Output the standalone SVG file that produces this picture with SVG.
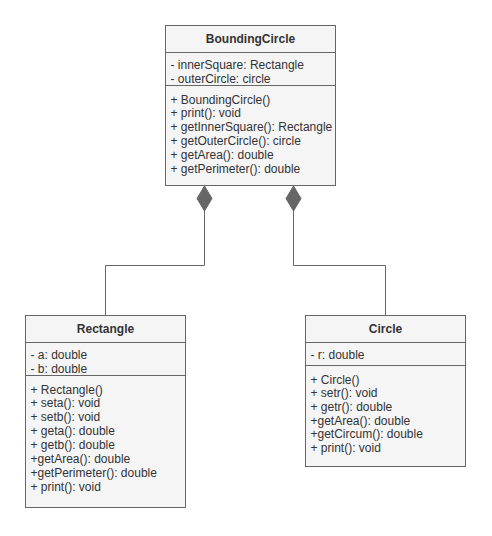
<svg xmlns="http://www.w3.org/2000/svg" width="492" height="536" viewBox="0 0 492 536">
<style>
.box{fill:#f5f5f5;stroke:#666666;stroke-width:1}
.div{stroke:#666666;stroke-width:1;fill:none}
.t{font-family:"Liberation Sans",Arial,sans-serif;font-size:12px;fill:#333333}
.h{font-weight:bold;text-anchor:middle}
.edge{stroke:#666666;stroke-width:1;fill:none}
.dia{fill:#666666;stroke:#666666;stroke-width:1}
</style>
<rect width="492" height="536" fill="#ffffff"/>
<g id="connectors">
<path class="edge" d="M204.5,211 V265.5 H105.5 V315"/>
<path class="edge" d="M293.5,211 V265.5 H385.5 V315"/>
<path class="dia" d="M204.5,186 L212,198.5 L204.5,211 L197,198.5 Z"/>
<path class="dia" d="M293.5,186 L301,198.5 L293.5,211 L286,198.5 Z"/>
</g>
<g id="BoundingCircle">
<rect class="box" x="165.5" y="25.5" width="170" height="160"/>
<line class="div" x1="165.5" y1="52.5" x2="335.5" y2="52.5"/>
<line class="div" x1="165.5" y1="85.5" x2="335.5" y2="85.5"/>
<text class="t h" x="250.5" y="43">BoundingCircle</text>
<text class="t"><tspan x="170.5" y="68.5">- innerSquare: Rectangle</tspan><tspan x="170.5" y="82.5">- outerCircle: circle</tspan></text>
<text class="t"><tspan x="170.5" y="103.5">+ BoundingCircle()</tspan><tspan x="170.5" y="117.4">+ print(): void</tspan><tspan x="170.5" y="131.3">+ getInnerSquare(): Rectangle</tspan><tspan x="170.5" y="145.2">+ getOuterCircle(): circle</tspan><tspan x="170.5" y="159.1">+ getArea(): double</tspan><tspan x="170.5" y="173">+ getPerimeter(): double</tspan></text>
</g>
<g id="Rectangle">
<rect class="box" x="25.5" y="315.5" width="160" height="192"/>
<line class="div" x1="25.5" y1="342.5" x2="185.5" y2="342.5"/>
<line class="div" x1="25.5" y1="375.5" x2="185.5" y2="375.5"/>
<text class="t h" x="105.5" y="333">Rectangle</text>
<text class="t"><tspan x="30.5" y="358.5">- a: double</tspan><tspan x="30.5" y="372.5">- b: double</tspan></text>
<text class="t"><tspan x="30.5" y="393.5">+ Rectangle()</tspan><tspan x="30.5" y="407.4">+ seta(): void</tspan><tspan x="30.5" y="421.3">+ setb(): void</tspan><tspan x="30.5" y="435.2">+ geta(): double</tspan><tspan x="30.5" y="449.1">+ getb(): double</tspan><tspan x="30.5" y="463">+getArea(): double</tspan><tspan x="30.5" y="476.9">+getPerimeter(): double</tspan><tspan x="30.5" y="490.8">+ print(): void</tspan></text>
</g>
<g id="Circle">
<rect class="box" x="305.5" y="315.5" width="160" height="151"/>
<line class="div" x1="305.5" y1="342.5" x2="465.5" y2="342.5"/>
<line class="div" x1="305.5" y1="365.5" x2="465.5" y2="365.5"/>
<text class="t h" x="385.5" y="333">Circle</text>
<text class="t"><tspan x="310.5" y="358.5">- r: double</tspan></text>
<text class="t"><tspan x="310.5" y="383.5">+ Circle()</tspan><tspan x="310.5" y="397.2">+ setr(): void</tspan><tspan x="310.5" y="410.9">+ getr(): double</tspan><tspan x="310.5" y="424.6">+getArea(): double</tspan><tspan x="310.5" y="438.3">+getCircum(): double</tspan><tspan x="310.5" y="452">+ print(): void</tspan></text>
</g>
</svg>
